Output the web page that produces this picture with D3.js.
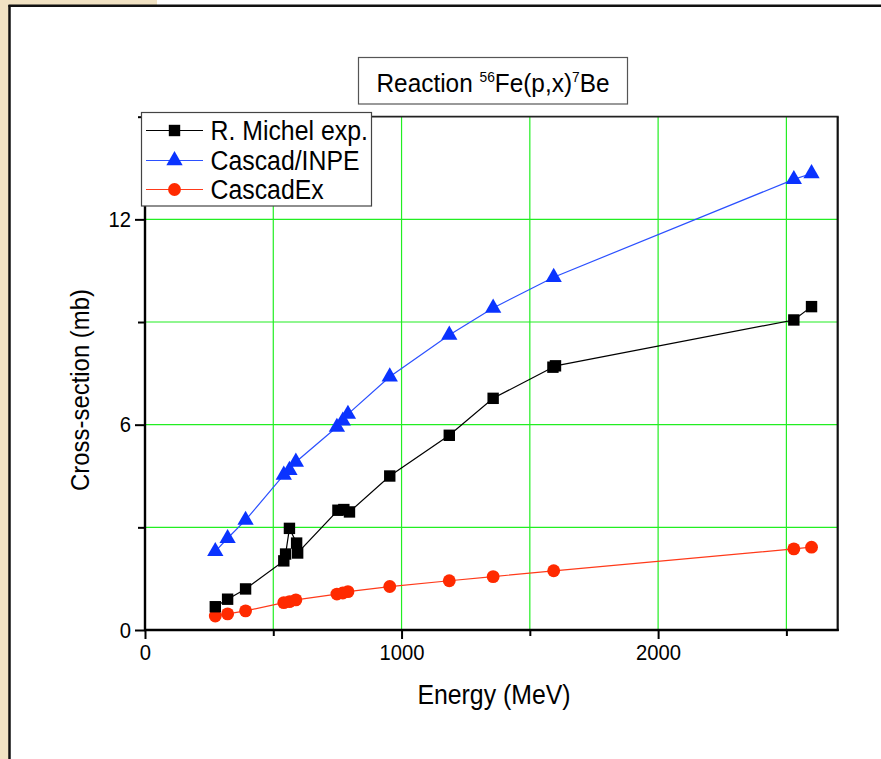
<!DOCTYPE html>
<html>
<head>
<meta charset="utf-8">
<script src="https://cdn.jsdelivr.net/npm/d3@7"></script>
<style>
  html, body { margin: 0; padding: 0; background: #fff; }
  svg { display: block; }
  text { font-family: "Liberation Sans", Arial, sans-serif; }
</style>
</head>
<body>
<svg id="chart" width="881" height="759"></svg>
<script>
// ---- data ----
const expEnergy = [274, 322, 392, 541, 548, 563, 591, 595, 752, 775, 797, 954, 1186, 1357, 1590, 1600, 2529, 2598];
const expValues = [0.68, 0.90, 1.20, 2.02, 2.22, 2.97, 2.54, 2.25, 3.50, 3.52, 3.45, 4.50, 5.69, 6.77, 7.68, 7.72, 9.06, 9.45];

const modelEnergy = [274, 322, 392, 541, 563, 588, 748, 771, 791, 954, 1186, 1357, 1593, 2529, 2598];
const inpeValues = [2.30, 2.68, 3.21, 4.53, 4.67, 4.91, 5.93, 6.11, 6.31, 7.40, 8.62, 9.41, 10.31, 13.17, 13.34];
const exValues   = [0.41, 0.47, 0.56, 0.80, 0.83, 0.88, 1.05, 1.08, 1.12, 1.27, 1.44, 1.56, 1.73, 2.37, 2.42];

const xMajorTicks = [0, 1000, 2000];
const xMinorTicks = [500, 1500, 2500];
const yMajorTicks = [0, 6, 12];
const yMinorTicks = [3, 9, 15];
const xGrid = [500, 1000, 1500, 2000, 2500];
const yGrid = [3, 6, 9, 12];

const seriesNames = ["R. Michel exp.", "Cascad/INPE", "CascadEx"];

// ---- layout ----
const svg = d3.select("#chart");
const L = 145, R = 837.7, T = 116.7, B = 630;
const SX = 0.92; // horizontal compression of the original's typeface
const x = d3.scaleLinear().domain([0, 2700]).range([L, R]);
const y = d3.scaleLinear().domain([0, 15]).range([B, T]);

function ctext(parent, px, py, size, anchor, rot) {
  const g = parent.append("g").attr("transform", `translate(${px},${py})` + (rot ? ` rotate(${rot})` : "") + ` scale(${SX},1)`);
  return g.append("text").attr("x", 0).attr("y", 0).attr("text-anchor", anchor)
    .style("font-size", size + "px").attr("fill", "#000");
}

// background decoration
svg.append("rect").attr("x", 0).attr("y", 0).attr("width", 881).attr("height", 759).attr("fill", "#fff");
svg.append("rect").attr("x", 0).attr("y", 0).attr("width", 9).attr("height", 759).attr("fill", "#f1e2c3");
svg.append("rect").attr("x", 0).attr("y", 0).attr("width", 157).attr("height", 5).attr("fill", "#f1e2c3");
svg.append("line").attr("x1", 9.5).attr("x2", 9.5).attr("y1", 5).attr("y2", 759).attr("stroke", "#111").attr("stroke-width", 2.5);
svg.append("line").attr("x1", 8.5).attr("x2", 881).attr("y1", 5.8).attr("y2", 5.8).attr("stroke", "#111").attr("stroke-width", 2.5);

// grid
const grid = svg.append("g");
grid.selectAll(".gx").data(xGrid).enter().append("line")
  .attr("x1", d => x(d)).attr("x2", d => x(d)).attr("y1", T).attr("y2", B)
  .attr("stroke", "#22ee22").attr("stroke-width", 1.2);
grid.selectAll(".gy").data(yGrid).enter().append("line")
  .attr("x1", L).attr("x2", R).attr("y1", d => y(d)).attr("y2", d => y(d))
  .attr("stroke", "#22ee22").attr("stroke-width", 1.2);

// frame
svg.append("line").attr("x1", L).attr("x2", R + 1).attr("y1", T).attr("y2", T).attr("stroke", "#222").attr("stroke-width", 1.8);
svg.append("line").attr("x1", R).attr("x2", R).attr("y1", T).attr("y2", B + 1).attr("stroke", "#111").attr("stroke-width", 2.2);

// axes
const xAxisMajor = d3.axisBottom(x).tickValues(xMajorTicks).tickSize(9).tickPadding(5).tickFormat(d3.format("d"));
const xAxisMinor = d3.axisBottom(x).tickValues(xMinorTicks).tickSize(6).tickFormat("");
const yAxisMajor = d3.axisLeft(y).tickValues(yMajorTicks).tickSize(10).tickPadding(4).tickFormat(d3.format("d"));
const yAxisMinor = d3.axisLeft(y).tickValues(yMinorTicks).tickSize(7).tickFormat("");

function styleAxis(g) {
  g.select(".domain").remove();
  g.selectAll(".tick line").attr("stroke", "#000").attr("stroke-width", 2);
  g.selectAll(".tick text").attr("fill", "#000").style("font-size", "22px")
    .style("font-family", '"Liberation Sans", Arial, sans-serif');
}
svg.append("g").attr("transform", `translate(0,${B})`).call(xAxisMajor).call(styleAxis)
  .selectAll(".tick text").attr("transform", `scale(${SX},1)`);
svg.append("g").attr("transform", `translate(0,${B})`).call(xAxisMinor).call(styleAxis);
const yg = svg.append("g").attr("transform", `translate(${L},0)`).call(yAxisMajor).call(styleAxis);
yg.selectAll(".tick text").attr("x", -14 / SX).attr("transform", `scale(${SX},1)`);
svg.append("g").attr("transform", `translate(${L},0)`).call(yAxisMinor).call(styleAxis);

svg.append("line").attr("x1", L).attr("x2", L).attr("y1", T - 1).attr("y2", B + 1).attr("stroke", "#000").attr("stroke-width", 2.4);
svg.append("line").attr("x1", L - 1).attr("x2", R + 1).attr("y1", B).attr("y2", B).attr("stroke", "#000").attr("stroke-width", 2.4);

// axis titles
ctext(svg, 494, 704, 27, "middle").text("Energy (MeV)");
ctext(svg, 89, 390, 26, "middle", -90).text("Cross-section (mb)");

// series
const colors = { exp: "#000000", inpe: "#0a33ff", ex: "#ff2a00" };
const lineColors = { exp: "#000000", inpe: "#2b50ff", ex: "#ff3a1a" };
const line = d3.line().x(d => x(d[0])).y(d => y(d[1]));

const expData = d3.zip(expEnergy, expValues);
const inpeData = d3.zip(modelEnergy, inpeValues);
const exData = d3.zip(modelEnergy, exValues);

const plot = svg.append("g");
plot.append("path").datum(exData).attr("d", line).attr("fill", "none").attr("stroke", lineColors.ex).attr("stroke-width", 1.2);
plot.append("path").datum(inpeData).attr("d", line).attr("fill", "none").attr("stroke", lineColors.inpe).attr("stroke-width", 1.2);
plot.append("path").datum(expData).attr("d", line).attr("fill", "none").attr("stroke", lineColors.exp).attr("stroke-width", 1.2);

const sqSym = d3.symbol().type(d3.symbolSquare).size(130);
const triSym = d3.symbol().type(d3.symbolTriangle).size(115);
const cirSym = d3.symbol().type(d3.symbolCircle).size(130);

plot.selectAll(".ex").data(exData).enter().append("path")
  .attr("d", cirSym).attr("transform", d => `translate(${x(d[0])},${y(d[1])})`).attr("fill", colors.ex);
plot.selectAll(".inpe").data(inpeData).enter().append("path")
  .attr("d", triSym).attr("transform", d => `translate(${x(d[0])},${y(d[1])})`).attr("fill", colors.inpe);
plot.selectAll(".exp").data(expData).enter().append("path")
  .attr("d", sqSym).attr("transform", d => `translate(${x(d[0])},${y(d[1])})`).attr("fill", colors.exp);

// title box
const tg = svg.append("g");
tg.append("rect").attr("x", 358.5).attr("y", 57.5).attr("width", 269).attr("height", 46.5)
  .attr("fill", "#fff").attr("stroke", "#555").attr("stroke-width", 1.2);
const tt = ctext(tg, 493, 92, 26.5, "middle");
tt.append("tspan").text("Reaction ");
tt.append("tspan").attr("dy", -10).style("font-size", "15px").text("56");
tt.append("tspan").attr("dy", 10).text("Fe(p,x)");
tt.append("tspan").attr("dy", -10).style("font-size", "15px").text("7");
tt.append("tspan").attr("dy", 10).text("Be");

// legend
const lg = svg.append("g");
lg.append("rect").attr("x", 141.5).attr("y", 112.5).attr("width", 230).attr("height", 93.5)
  .attr("fill", "#fff").attr("stroke", "#444").attr("stroke-width", 1.2);
const legendRows = [
  { name: seriesNames[0], c: colors.exp, lc: lineColors.exp, sym: sqSym, y: 130.5 },
  { name: seriesNames[1], c: colors.inpe, lc: lineColors.inpe, sym: triSym, y: 160.5 },
  { name: seriesNames[2], c: colors.ex, lc: lineColors.ex, sym: cirSym, y: 189.5 }
];
legendRows.forEach(r => {
  lg.append("line").attr("x1", 146).attr("x2", 203).attr("y1", r.y).attr("y2", r.y).attr("stroke", r.lc).attr("stroke-width", 1.2);
  lg.append("path").attr("d", r.sym).attr("transform", `translate(174.5,${r.y})`).attr("fill", r.c);
  ctext(lg, 210.5, r.y + 9.5, 27, "start").text(r.name);
});
</script>
</body>
</html>
